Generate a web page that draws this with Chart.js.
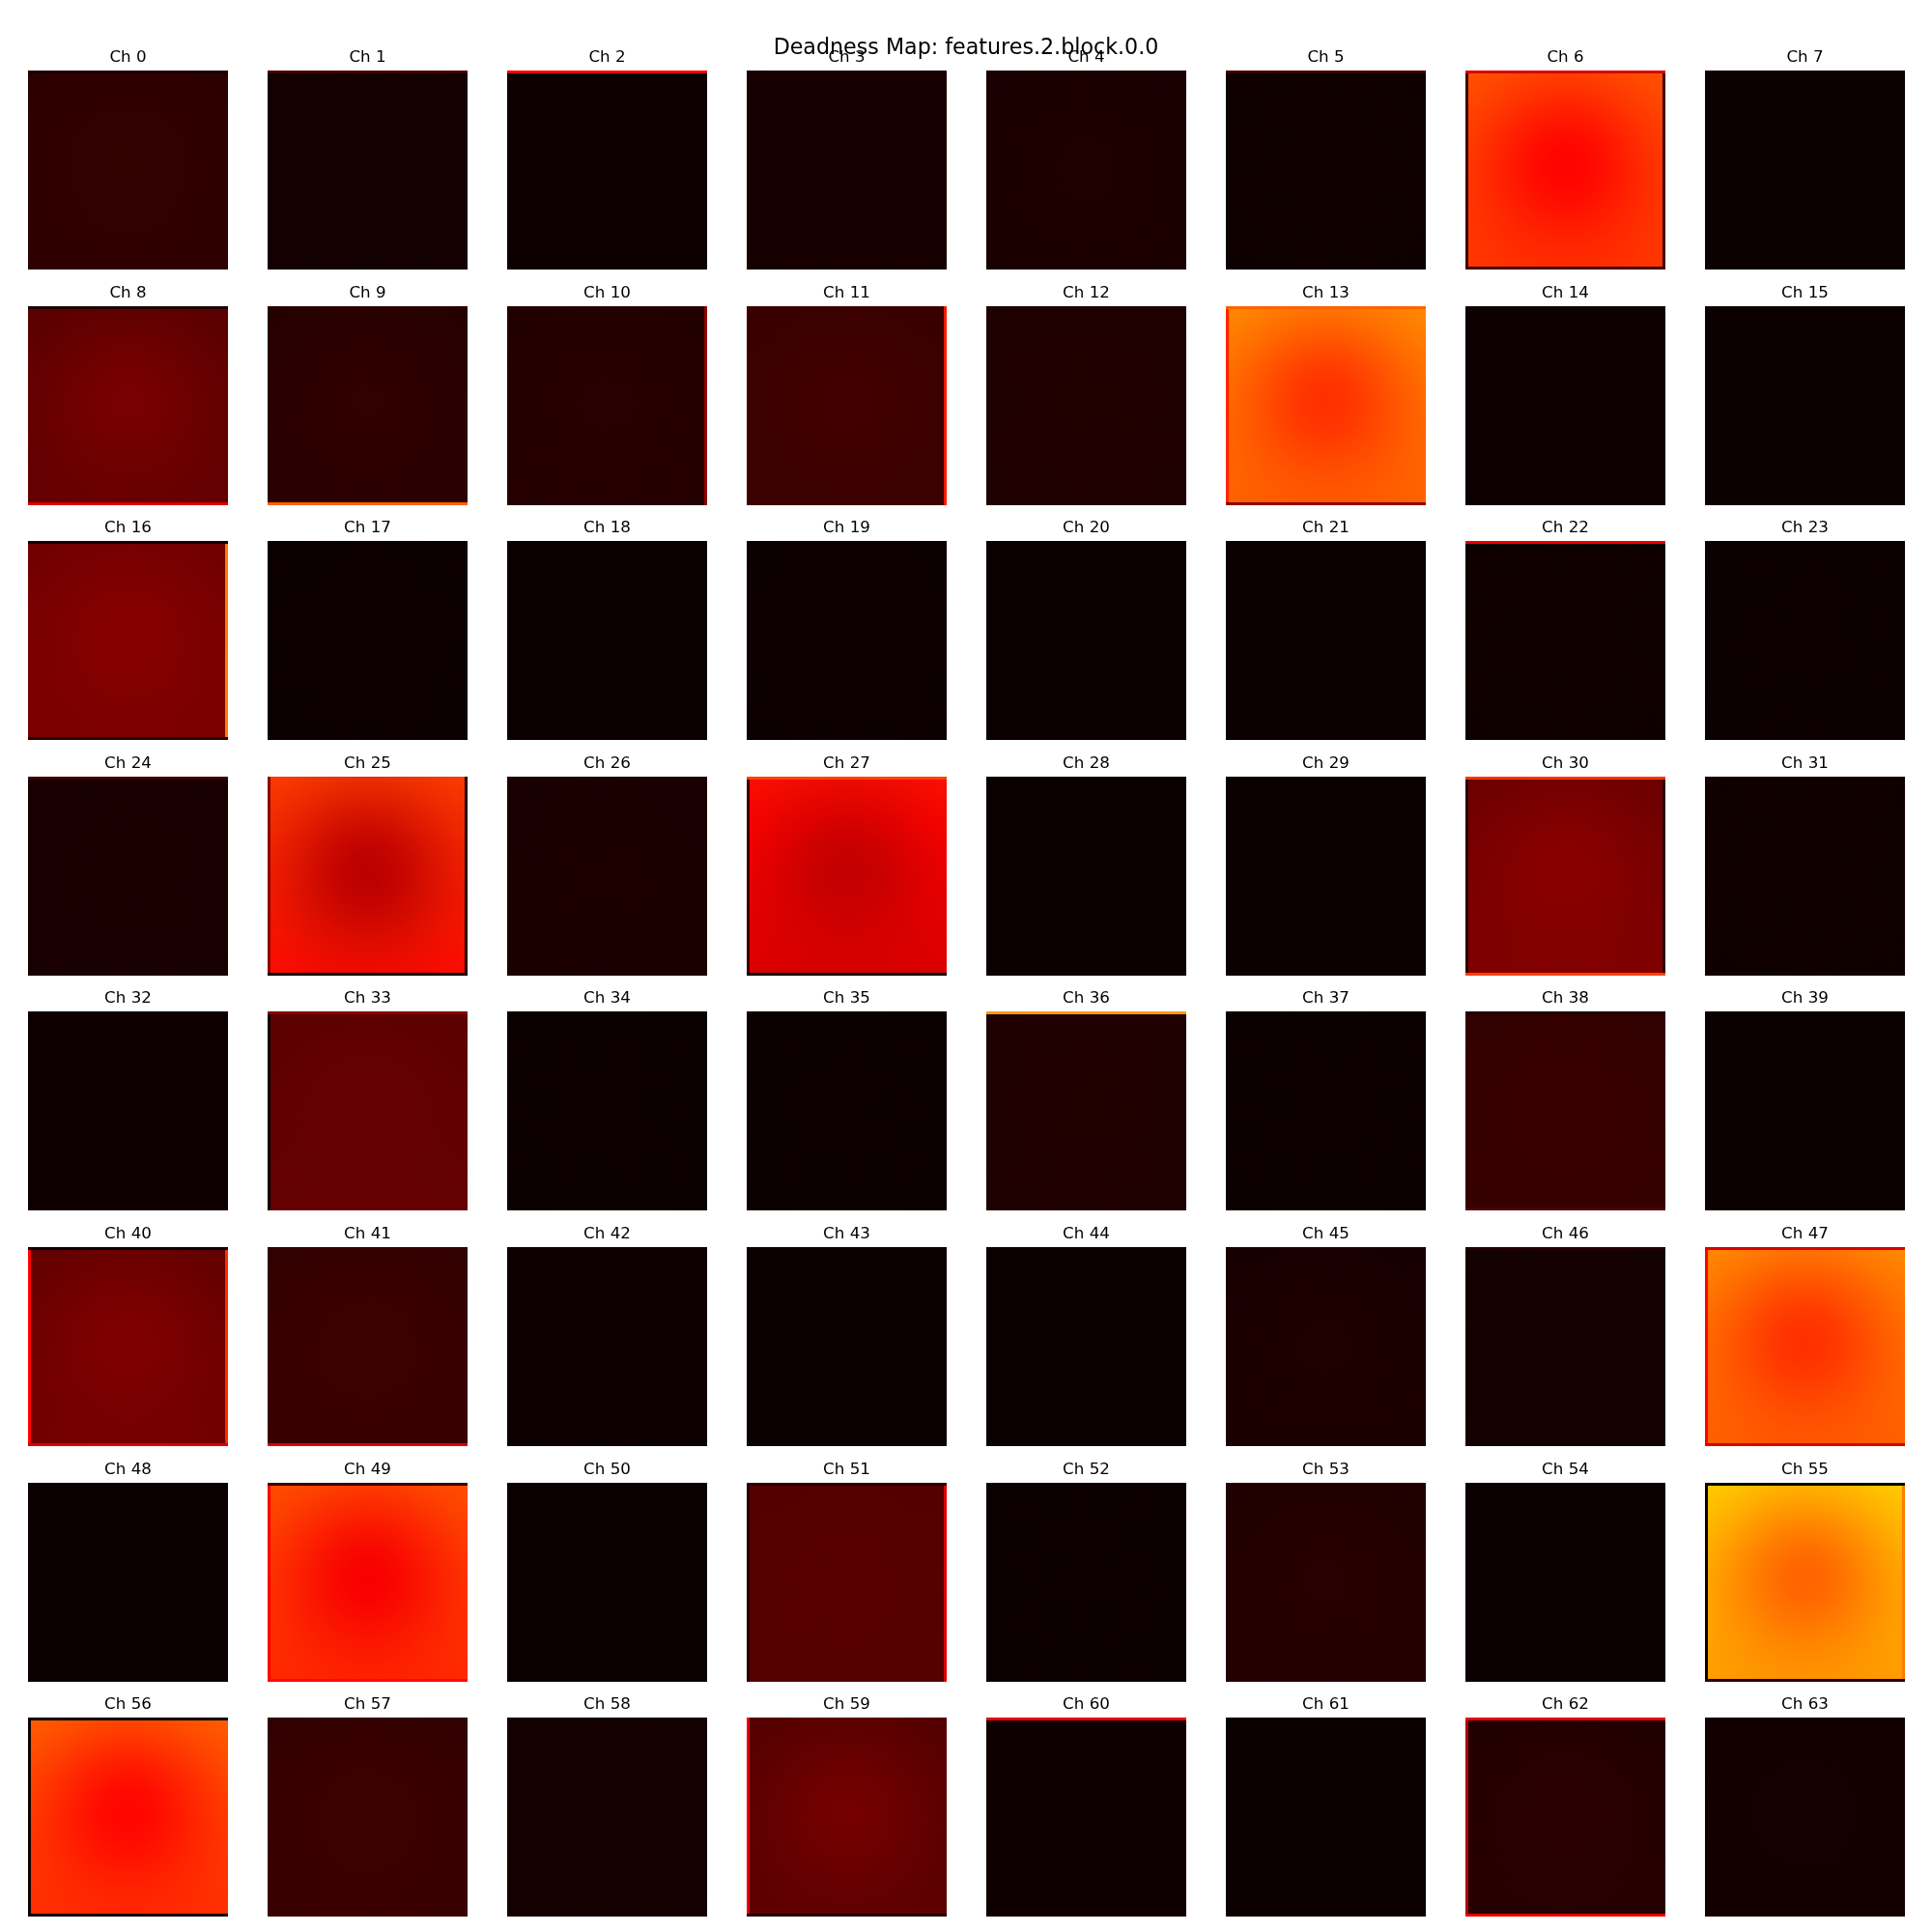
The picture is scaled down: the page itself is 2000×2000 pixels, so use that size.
<!DOCTYPE html>
<html><head><meta charset="utf-8">
<script src="https://cdn.jsdelivr.net/npm/chart.js@4.4.1/dist/chart.umd.min.js"></script>
<style>
html,body{margin:0;padding:0;background:#fff;}
#fig{position:relative;width:2000px;height:2000px;background:#fff;overflow:hidden;}
#fig canvas{position:absolute;}
#suptitle{position:absolute;left:0;width:2000px;text-align:center;top:37px;line-height:22px;font-family:'DejaVu Sans',sans-serif;font-size:22.2px;color:#000;z-index:10;white-space:nowrap;}
</style></head>
<body><div id="fig"><div id="suptitle">Deadness Map: features.2.block.0.0</div></div>
<script>
// ---- data (deadness values on a 0..1 scale, hot colormap) ----
const channelLabels = Array.from({length: 64}, (_, i) => 'Ch ' + i);
const topVals = [
  0.050,0.013,0.002,0.018,0.022,0.007,0.497,0.000,
  0.113,0.039,0.035,0.068,0.028,0.580,0.002,0.000,
  0.148,0.001,0.000,0.001,0.000,0.000,0.006,0.001,
  0.021,0.460,0.021,0.389,0.000,0.000,0.140,0.006,
  0.006,0.118,0.001,0.001,0.028,0.001,0.057,0.000,
  0.125,0.058,0.004,0.000,0.000,0.020,0.013,0.580,
  0.000,0.490,0.000,0.110,0.001,0.031,0.000,0.680,
  0.514,0.058,0.012,0.104,0.006,0.000,0.031,0.011];
const bottomVals = [
  0.053,0.013,0.002,0.018,0.025,0.007,0.449,0.000,
  0.134,0.046,0.040,0.072,0.031,0.514,0.002,0.000,
  0.168,0.001,0.000,0.001,0.000,0.000,0.006,0.001,
  0.021,0.383,0.024,0.310,0.000,0.000,0.175,0.006,
  0.006,0.134,0.001,0.001,0.030,0.001,0.065,0.000,
  0.155,0.068,0.004,0.000,0.000,0.025,0.013,0.510,
  0.000,0.430,0.000,0.113,0.001,0.038,0.000,0.604,
  0.437,0.070,0.015,0.120,0.006,0.000,0.040,0.011];
const centerVals = [
  0.060,0.016,0.003,0.020,0.027,0.008,0.370,0.001,
  0.163,0.058,0.043,0.083,0.034,0.437,0.003,0.001,
  0.186,0.003,0.001,0.005,0.001,0.001,0.008,0.002,
  0.024,0.265,0.026,0.275,0.001,0.001,0.190,0.008,
  0.007,0.136,0.002,0.002,0.033,0.002,0.070,0.001,
  0.175,0.075,0.005,0.001,0.001,0.027,0.015,0.437,
  0.001,0.355,0.001,0.116,0.002,0.042,0.001,0.514,
  0.372,0.075,0.016,0.157,0.007,0.001,0.048,0.012];
// values of the one-cell border rows/columns (null = same as interior)
const stripTop = [
  0.02,0.09,0.365,null,null,0.075,0.31,null,
  0.02,null,null,null,null,0.51,null,null,
  0.02,null,null,null,null,null,0.33,null,
  0.075,null,null,0.46,null,null,0.44,null,
  null,0.19,null,null,0.60,null,0.03,null,
  0.0,null,null,null,null,null,0.04,0.31,
  null,0.08,null,0.05,null,null,null,0.0,
  0.0,null,null,null,0.33,null,0.33,null];
const stripBottom = [
  null,null,null,null,null,null,0.08,null,
  0.31,0.51,null,null,null,0.20,null,null,
  0.04,null,null,null,null,null,null,null,
  null,0.0,null,0.0,null,null,0.46,null,
  null,null,null,null,null,null,0.10,null,
  0.31,0.31,null,null,null,null,null,0.31,
  null,0.38,null,null,null,null,null,0.04,
  0.0,null,null,0.03,null,null,0.33,null];
const stripLeft = [
  null,null,null,null,null,null,0.075,null,
  null,null,null,null,null,0.42,null,null,
  null,null,null,null,null,null,null,null,
  null,0.20,null,0.07,null,null,0.05,null,
  null,0.0,null,null,null,null,null,null,
  0.37,null,null,null,null,null,null,0.37,
  null,0.36,null,0.03,null,null,null,0.0,
  0.0,null,null,0.33,null,null,0.25,null];
const stripRight = [
  null,null,null,null,null,null,0.08,null,
  null,null,0.20,0.40,null,null,null,null,
  0.55,null,null,null,null,null,null,null,
  null,0.03,null,null,null,null,0.05,null,
  null,null,null,null,null,null,null,null,
  0.43,null,null,null,null,null,null,null,
  null,null,null,0.31,null,null,null,0.55,
  null,null,null,null,null,null,null,null];

// ---- hot colormap ----
function hot(v) {
  v = Math.max(0, Math.min(1, v));
  const a = 0.365079, b = 0.746032;
  const r = v < a ? 0.0416 + (1 - 0.0416) * v / a : 1;
  const g = v < a ? 0 : (v < b ? (v - a) / (b - a) : 1);
  const bl = v < b ? 0 : (v - b) / (1 - b);
  return [Math.round(r * 255), Math.round(g * 255), Math.round(bl * 255)];
}
function hotCss(v, alpha) {
  const c = hot(v);
  return alpha === undefined ? `rgb(${c[0]},${c[1]},${c[2]})` : `rgba(${c[0]},${c[1]},${c[2]},${alpha})`;
}

// ---- layout ----
const fig = document.getElementById('fig');
const colLeft0 = 29, colPitch = 248, panelW = 207;
const rowTop0 = 73, rowPitch = 243.6, panelH = 206;
const titleSpace = 34;

for (let i = 0; i < 64; i++) {
  const r = Math.floor(i / 8), c = i % 8;
  const cv = document.createElement('canvas');
  cv.width = panelW; cv.height = panelH + titleSpace;
  cv.style.left = Math.round(colLeft0 + c * colPitch) + 'px';
  cv.style.top = (Math.round(rowTop0 + r * rowPitch) - titleSpace) + 'px';
  fig.appendChild(cv);

  const baseFill = (ctx) => {
    const ca = ctx.chart.chartArea;
    if (!ca) return hotCss(topVals[i]);
    const g = ctx.chart.ctx.createLinearGradient(0, ca.top, 0, ca.bottom);
    for (let k = 0; k <= 8; k++) {
      const t = k / 8;
      g.addColorStop(t, hotCss(topVals[i] + (bottomVals[i] - topVals[i]) * t));
    }
    return g;
  };
  const centerFill = (ctx) => {
    const ca = ctx.chart.chartArea;
    if (!ca) return 'rgba(0,0,0,0)';
    const w = ca.right - ca.left, h = ca.bottom - ca.top;
    const cx = (ca.left + ca.right) / 2, cy = ca.top + h * 0.48;
    const R = 0.85 * w;
    const g = ctx.chart.ctx.createRadialGradient(cx, cy, 0, cx, cy, R);
    for (let k = 0; k <= 16; k++) {
      const t = k / 16;
      const a = Math.exp(-Math.pow(t * 0.85 / 0.42, 2));
      g.addColorStop(t, hotCss(centerVals[i], a.toFixed(3)));
    }
    return g;
  };
  const stripDs = (val, side, ord) => ({
    data: [[0, 1]],
    backgroundColor: 'rgba(0,0,0,0)',
    borderColor: val === null ? 'rgba(0,0,0,0)' : hotCss(val),
    borderWidth: Object.assign({top: 0, bottom: 0, left: 0, right: 0}, val === null ? {} : {[side]: 3}),
    borderSkipped: false,
    order: ord
  });

  new Chart(cv, {
    type: 'bar',
    data: {
      labels: [channelLabels[i]],
      datasets: [
        stripDs(stripTop[i], 'top', 1),
        stripDs(stripBottom[i], 'bottom', 1),
        stripDs(stripLeft[i], 'left', 1),
        stripDs(stripRight[i], 'right', 1),
        {data: [[0, 1]], backgroundColor: centerFill, borderWidth: 0, order: 2},
        {data: [[0, 1]], backgroundColor: baseFill, borderWidth: 0, order: 3}
      ]
    },
    options: {
      responsive: false,
      animation: false,
      devicePixelRatio: 1,
      events: [],
      layout: {padding: 0},
      datasets: {bar: {grouped: false, barPercentage: 1, categoryPercentage: 1, inflateAmount: 0}},
      scales: {
        x: {display: false},
        y: {display: false, min: 0, max: 1}
      },
      plugins: {
        legend: {display: false},
        tooltip: {enabled: false},
        title: {
          display: true,
          text: channelLabels[i],
          color: '#000',
          font: {family: "'DejaVu Sans'", size: 16.7, weight: 'normal', lineHeight: 1.2},
          padding: {top: 11, bottom: 3}
        }
      }
    }
  });
}
</script>
</body></html>
